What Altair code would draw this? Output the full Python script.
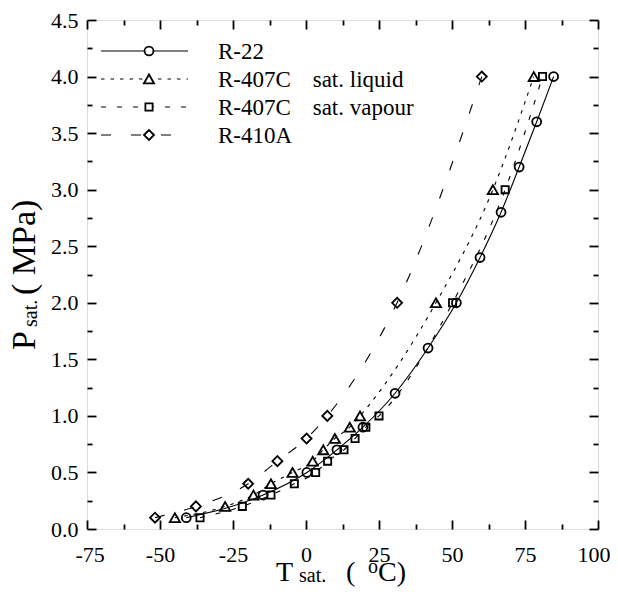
import altair as alt
import pandas as pd

series_names = ["R-22", "R-407C sat. liquid", "R-407C sat. vapour", "R-410A"]
legend_labels = ["R-22",
                 "R-407C\u00a0\u00a0\u00a0\u2009sat. liquid",
                 "R-407C\u00a0\u00a0\u00a0\u2009sat. vapour",
                 "R-410A"]

r22_T = [-41.0, -14.7, 0.3, 10.6, 19.5, 30.5, 41.8, 51.5, 59.6, 66.8, 73.0, 79.0, 84.8]
r22_P = [0.1, 0.3, 0.5, 0.7, 0.9, 1.2, 1.6, 2.0, 2.4, 2.8, 3.2, 3.6, 4.0]
liq_T = [-44.9, -27.7, -18.0, -12.0, -4.6, 2.3, 5.9, 9.9, 15.0, 18.5, 44.5, 64.0, 78.0]
liq_P = [0.1, 0.2, 0.3, 0.4, 0.5, 0.6, 0.7, 0.8, 0.9, 1.0, 2.0, 3.0, 4.0]
vap_T = [-36.3, -21.8, -12.0, -4.0, 3.3, 7.4, 13.0, 16.8, 20.5, 25.0, 50.2, 68.2, 81.0]
vap_P = [0.1, 0.2, 0.3, 0.4, 0.5, 0.6, 0.7, 0.8, 0.9, 1.0, 2.0, 3.0, 4.0]
r410_T = [-51.7, -37.7, -19.8, -9.8, 0.2, 7.3, 31.2, 60.2]
r410_P = [0.1, 0.2, 0.4, 0.6, 0.8, 1.0, 2.0, 4.0]

x_major = [-75, -50, -25, 0, 25, 50, 75, 100]
x_minor = [-62.5, -37.5, -12.5, 12.5, 37.5, 62.5, 87.5]
y_major = [0.0, 0.5, 1.0, 1.5, 2.0, 2.5, 3.0, 3.5, 4.0, 4.5]
y_minor = [0.25, 0.75, 1.25, 1.75, 2.25, 2.75, 3.25, 3.75, 4.25]

series_data = {
    "R-22": (r22_T, r22_P),
    "R-407C sat. liquid": (liq_T, liq_P),
    "R-407C sat. vapour": (vap_T, vap_P),
    "R-410A": (r410_T, r410_P),
}
frames = [pd.DataFrame({"series": n, "T": t, "P": p}) for n, (t, p) in series_data.items()]
df = pd.concat(frames, ignore_index=True)

FONT = "Liberation Serif"
styles = {
    "R-22": dict(dash=None, shape="circle", size=80),
    "R-407C sat. liquid": dict(dash=[3.5, 6], shape="triangle-up", size=105),
    "R-407C sat. vapour": dict(dash=[5, 11], shape="square", size=52),
    "R-410A": dict(dash=[10, 20], shape="diamond", size=100),
}

W, H = 511, 509
xs = alt.Scale(domain=[-75, 100], nice=False, zero=False)
ys = alt.Scale(domain=[0, 4.5], nice=False, zero=False)
common_axis = dict(domain=False, grid=False, tickColor="black", tickWidth=1.8,
                   labelFont=FONT, labelFontSize=22, labelColor="black",
                   title=None)


def holder(xaxis, yaxis):
    return alt.Chart(df).mark_point(opacity=0).encode(
        x=alt.X("T:Q", scale=xs, axis=xaxis),
        y=alt.Y("P:Q", scale=ys, axis=yaxis),
    )


ax_a = holder(
    alt.Axis(orient="bottom", values=x_major, labelExpr="datum.value + ''",
             tickSize=9, offset=-9, labelPadding=15, labelFlush=True,
             labelFlushOffset=12, labelOverlap=False, **common_axis),
    alt.Axis(orient="left", values=y_major, format=".1f", tickSize=9, offset=-9,
             labelPadding=9, labelOverlap=False, **common_axis),
)
ax_b = holder(
    alt.Axis(orient="bottom", values=x_minor, tickSize=5, offset=-5, labels=False, **common_axis),
    alt.Axis(orient="left", values=y_minor, tickSize=5, offset=-5, labels=False, **common_axis),
)
ax_c = holder(
    alt.Axis(orient="top", values=x_major, tickSize=9, offset=-9, labels=False, **common_axis),
    alt.Axis(orient="right", values=y_major, tickSize=9, offset=-9, labels=False, **common_axis),
)
ax_d = holder(
    alt.Axis(orient="top", values=x_minor, tickSize=5, offset=-5, labels=False, **common_axis),
    alt.Axis(orient="right", values=y_minor, tickSize=5, offset=-5, labels=False, **common_axis),
)
layers = [ax_a, ax_b, ax_c, ax_d]

for name in series_names:
    st = styles[name]
    sub = df[df["series"] == name]
    line_kwargs = dict(color="black", strokeWidth=1.1, interpolate="monotone")
    if st["dash"] is not None:
        line_kwargs["strokeDash"] = st["dash"]
    layers.append(alt.Chart(sub).mark_line(**line_kwargs).encode(
        x=alt.X("T:Q", scale=xs, axis=None), y=alt.Y("P:Q", scale=ys, axis=None)))
    layers.append(alt.Chart(sub).mark_point(
        filled=False, color="black", strokeWidth=1.8, opacity=1,
        shape=st["shape"], size=st["size"]).encode(
        x=alt.X("T:Q", scale=xs, axis=None), y=alt.Y("P:Q", scale=ys, axis=None)))

dummy = pd.DataFrame({"a": [0]})


def txt(s, size, x, y, angle=0, font=FONT, baseline="alphabetic"):
    kw = dict(text=s, font=font, fontSize=size, align="left",
              baseline=baseline, color="black")
    if angle:
        kw["angle"] = angle
    return alt.Chart(dummy).mark_text(**kw).encode(x=alt.value(x), y=alt.value(y))


# legend inside the plot, upper left
legend_rows = [31, 59, 87, 115]
for name, label, ry in zip(series_names, legend_labels, legend_rows):
    st = styles[name]
    rule_kwargs = dict(color="black", strokeWidth=1.1)
    if st["dash"] is not None:
        rule_kwargs["strokeDash"] = st["dash"]
    layers.append(alt.Chart(dummy).mark_rule(**rule_kwargs).encode(
        x=alt.value(14), x2=alt.value(101), y=alt.value(ry)))
    layers.append(alt.Chart(dummy).mark_point(
        filled=True, fill="white", stroke="black", strokeWidth=1.8, opacity=1,
        shape=st["shape"], size=st["size"]).encode(x=alt.value(62), y=alt.value(ry)))
    layers.append(txt(label, 23, 131, ry + 8))

# x-axis title: T_sat. ( oC)
layers += [
    txt("T", 28, 189, 561),
    txt("sat.", 20, 212, 562),
    txt("(", 28, 259, 561),
    txt("o", 20, 281, 553),
    txt("C)", 28, 291, 561),
]
# y-axis title: P_sat. ( MPa), rotated
layers += [
    txt("P", 34, -52, 330, angle=270),
    txt("sat.", 20, -50, 307, angle=270),
    txt("( MPa)", 34, -52, 275, angle=270),
]

chart = alt.layer(*layers).resolve_axis(x="independent", y="independent").properties(
    width=W, height=H,
    autosize=alt.AutoSizeParams(type="none"),
    padding={"left": 79, "top": 12, "right": 12, "bottom": 59},
).configure_view(stroke="black", strokeWidth=2).configure(background="white")

chart.save("out.html", embed_options={"renderer": "svg", "actions": False})
